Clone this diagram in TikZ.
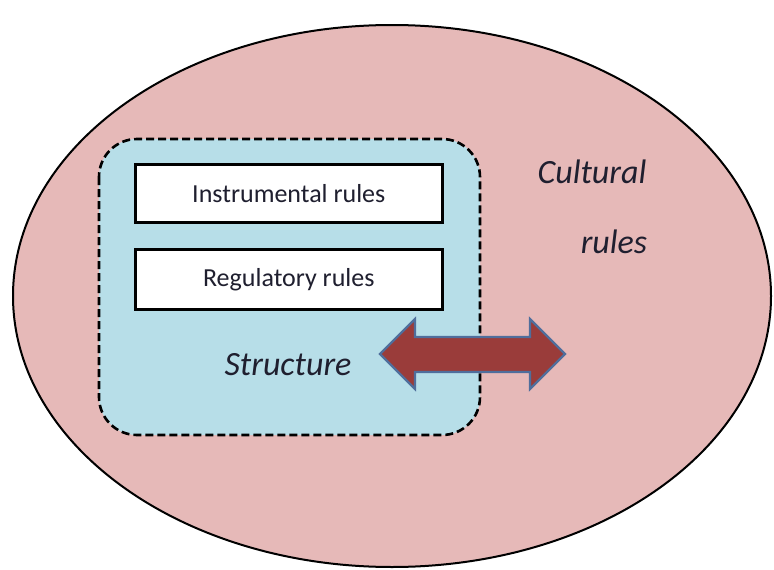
\documentclass[tikz,border=0pt]{standalone}
\usepackage{fontspec}
\setmainfont{Carlito}
\definecolor{pinkfill}{HTML}{E6B9B8}
\definecolor{bluefill}{HTML}{B7DEE8}
\definecolor{arrowfill}{HTML}{9A3C3A}
\definecolor{arrowedge}{HTML}{4F6E9C}
\definecolor{txt}{HTML}{1F1F2F}
\begin{document}
\begin{tikzpicture}[x=1pt,y=-1pt,
  rulebox/.style={draw=black,line width=2.6pt,fill=white,minimum width=307pt,minimum height=58pt,anchor=north west,font=\fontsize{26}{30}\selectfont,text=txt,inner sep=0pt},
  ital/.style={font=\fontsize{34}{40}\selectfont\itshape,text=txt,inner sep=0pt}]
\useasboundingbox (0,0) rectangle (774,570);
\fill[white] (0,0) rectangle (774,570);
\draw[fill=pinkfill,line width=2pt] (392,296) ellipse [x radius=379, y radius=271];
\draw[fill=bluefill,line width=2.6pt,dash pattern=on 8pt off 4pt,rounded corners=38pt] (99,139) rectangle (480,435);
\node[rulebox] (instr) at (134,163) {Instrumental rules};
\node[rulebox,minimum height=60pt] (reg) at (134,248) {Regulatory rules};
\node[ital] (struct) at (288,365) {Structure};
\node[ital] (cult) at (592,172) {Cultural};
\node[ital] (rules) at (614,242) {rules};
\draw[fill=arrowfill,draw=arrowedge,line width=2.2pt,line join=miter]
  (380,354) -- (415,319) -- (415,337) -- (530,337) -- (530,319) -- (565,354)
  -- (530,389) -- (530,372) -- (415,372) -- (415,389) -- cycle;
\end{tikzpicture}
\end{document}
